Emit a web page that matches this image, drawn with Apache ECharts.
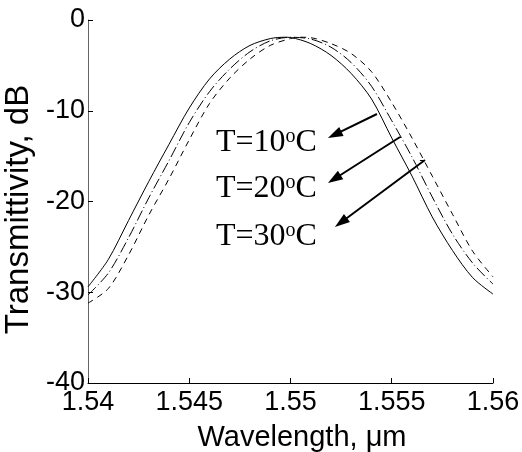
<!DOCTYPE html>
<html>
<head>
<meta charset="utf-8">
<script src="https://cdn.jsdelivr.net/npm/echarts@6/dist/echarts.min.js"></script>
<style>
  html, body { margin: 0; padding: 0; background: #fff; }
  #chart { width: 522px; height: 452px; }
</style>
</head>
<body>
<div id="chart"></div>
<script>
// Axis ticks
const xTicks = [1.54, 1.545, 1.55, 1.555, 1.56];
const yTicks = [-40, -30, -20, -10, 0];

// Transmission spectra [wavelength (um), transmittivity (dB)]
const curveT10 = [
  [1.5400, -29.4], [1.5410, -26.4], [1.5420, -22.1], [1.5430, -17.8], [1.5440, -13.7],
  [1.5450, -9.7], [1.5460, -6.5], [1.5470, -4.3], [1.5480, -2.8], [1.5490, -2.05],
  [1.5497, -1.9], [1.5500, -1.93], [1.5510, -2.6], [1.5520, -3.9], [1.5530, -5.9],
  [1.5540, -8.7], [1.5550, -13.0], [1.5560, -17.2], [1.5570, -21.7], [1.5580, -25.4],
  [1.5590, -28.4], [1.5600, -30.2]
];
const curveT20 = [
  [1.5400, -30.3], [1.5410, -27.9], [1.5420, -24.0], [1.5430, -19.6], [1.5440, -15.5],
  [1.5450, -11.3], [1.5460, -7.9], [1.5470, -5.4], [1.5480, -3.5], [1.5490, -2.3],
  [1.5500, -1.9], [1.5510, -2.1], [1.5520, -3.0], [1.5530, -4.7], [1.5540, -7.3],
  [1.5550, -11.1], [1.5560, -15.1], [1.5570, -19.5], [1.5580, -23.6], [1.5590, -26.8],
  [1.5600, -29.1]
];
const curveT30 = [
  [1.5400, -31.2], [1.5410, -29.6], [1.5420, -25.9], [1.5430, -21.5], [1.5440, -17.5],
  [1.5450, -13.2], [1.5460, -9.2], [1.5470, -6.4], [1.5480, -4.3], [1.5490, -2.8],
  [1.5500, -2.05], [1.5505, -1.9], [1.5510, -1.95], [1.5520, -2.6], [1.5530, -3.7],
  [1.5540, -5.7], [1.5550, -9.1], [1.5560, -13.0], [1.5570, -17.2], [1.5580, -21.4],
  [1.5590, -25.5], [1.5600, -28.3]
];

// Temperature annotations
const temperatures = ['10', '20', '30'];
const labelAnchors = [[1.54632, -11.79], [1.54632, -16.86], [1.54632, -22.15]];
const arrowStarts = [[1.55427, -10.36], [1.55541, -12.89], [1.55664, -15.43]];
const arrowEnds = [[1.55218, -12.64], [1.55216, -17.52], [1.55249, -22.31]];
const arrowStubs = [
  [[1.55531, -12.89], [1.55546, -12.89]],
  [[1.55639, -15.43], [1.55664, -15.43]]
];

const axisFont = 'Liberation Sans, Arial, sans-serif';
const serifFont = 'Liberation Serif, Times New Roman, serif';

const chart = echarts.init(document.getElementById('chart'), null, { renderer: 'canvas' });

const arrowData = arrowStarts.map((s, i) => [
  { coord: s, symbol: 'none' },
  { coord: arrowEnds[i], symbol: 'triangle' }
]).concat(arrowStubs.map(st => [
  { coord: st[0], symbol: 'none', lineStyle: { width: 1 } },
  { coord: st[1], symbol: 'none' }
]));

function lineSeries(name, data, dash) {
  return {
    name: name,
    type: 'line',
    data: data,
    showSymbol: false,
    symbol: 'none',
    smooth: 0.3,
    clip: true,
    silent: true,
    lineStyle: { color: '#000', width: 1, type: dash },
    z: 2
  };
}

const series = [
  lineSeries('T=10', curveT10, 'solid'),
  lineSeries('T=20', curveT20, [11, 3, 1, 3]),
  lineSeries('T=30', curveT30, [6, 5])
];
series[0].markLine = {
  silent: true,
  symbolSize: [10, 15],
  label: { show: false },
  lineStyle: { color: '#000', width: 2, type: 'solid' },
  itemStyle: { color: '#000' },
  emphasis: { disabled: true },
  animation: false,
  data: arrowData
};

chart.setOption({
  animation: false,
  backgroundColor: '#fff',
  grid: { left: 88, right: 29, top: 20, bottom: 69, containLabel: false, outerBoundsMode: 'none' },
  xAxis: {
    type: 'value',
    min: xTicks[0],
    max: xTicks[xTicks.length - 1],
    interval: 0.005,
    name: 'Wavelength, \u03bcm',
    nameLocation: 'middle',
    nameGap: 40,
    nameTextStyle: { fontFamily: axisFont, fontSize: 29, color: '#000', padding: [0, 0, 0, 23] },
    axisLine: { onZero: false, lineStyle: { color: '#000', width: 1 } },
    axisTick: { inside: true, length: 5, lineStyle: { color: '#000' } },
    axisLabel: {
      fontFamily: axisFont, fontSize: 27, color: '#000', margin: 6,
      formatter: v => String(+v.toFixed(3))
    },
    splitLine: { show: false }
  },
  yAxis: {
    type: 'value',
    min: yTicks[0],
    max: yTicks[yTicks.length - 1],
    interval: 10,
    name: 'Transmittivity, dB',
    nameLocation: 'middle',
    nameGap: 48,
    nameTextStyle: { fontFamily: axisFont, fontSize: 33, color: '#000', padding: [0, 16, 0, 0] },
    axisLine: { onZero: false, lineStyle: { color: '#666', width: 1 } },
    axisTick: { inside: true, length: 5, lineStyle: { color: '#000' } },
    axisLabel: { fontFamily: axisFont, fontSize: 27, color: '#000', margin: 3 },
    splitLine: { show: false }
  },
  series: series
});

// Temperature labels placed at data-space anchors
const labels = temperatures.map((t, i) => {
  const p = chart.convertToPixel({ gridIndex: 0 }, labelAnchors[i]);
  return {
    type: 'text',
    x: p[0],
    y: p[1],
    silent: true,
    style: {
      text: '{m|T=' + t + '}{s|o}{m|C}',
      align: 'left',
      verticalAlign: 'top',
      fill: '#000',
      rich: {
        m: { fontFamily: serifFont, fontSize: 32, lineHeight: 32, color: '#000' },
        s: { fontFamily: serifFont, fontSize: 20, lineHeight: 20, verticalAlign: 'top', color: '#000' }
      }
    },
    z: 10
  };
});
chart.setOption({ graphic: labels });
</script>
</body>
</html>
